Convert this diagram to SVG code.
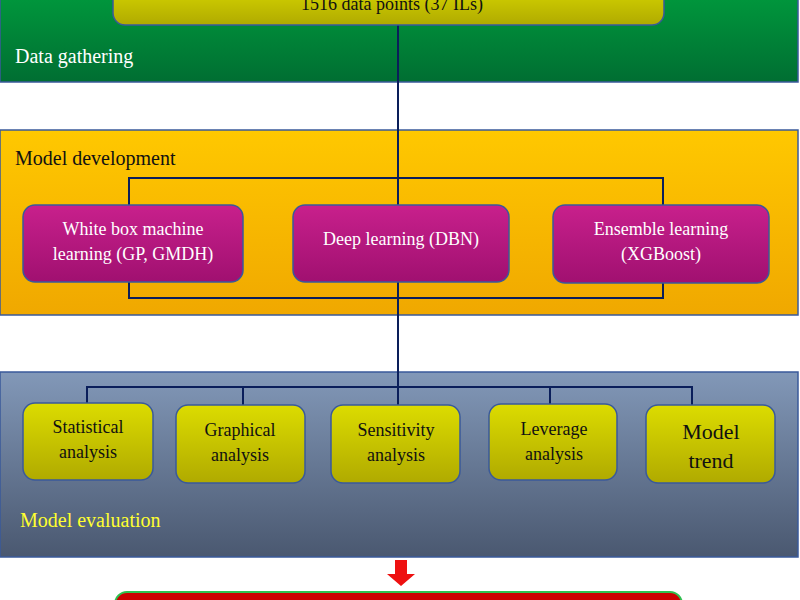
<svg xmlns="http://www.w3.org/2000/svg" width="800" height="600" viewBox="0 0 800 600">
<defs>
<linearGradient id="gG" x1="0" y1="0" x2="0" y2="1"><stop offset="0" stop-color="#00963c"/><stop offset="1" stop-color="#006e32"/></linearGradient>
<linearGradient id="gO" x1="0" y1="0" x2="0" y2="1"><stop offset="0" stop-color="#ffc800"/><stop offset="1" stop-color="#f0a800"/></linearGradient>
<linearGradient id="gB" x1="0" y1="0" x2="0" y2="1"><stop offset="0" stop-color="#8298b8"/><stop offset="1" stop-color="#4a5870"/></linearGradient>
<linearGradient id="gY" x1="0" y1="0" x2="0" y2="1"><stop offset="0" stop-color="#dcdc00"/><stop offset="1" stop-color="#b0aa00"/></linearGradient>
<linearGradient id="gM" x1="0" y1="0" x2="0" y2="1"><stop offset="0" stop-color="#c8208c"/><stop offset="1" stop-color="#a01070"/></linearGradient>
</defs>
<style>
.band{stroke:#3a5a9a;stroke-width:1.5}
.yb{fill:url(#gY);stroke:#3a5a9a;stroke-width:1.5}
.mb{fill:url(#gM);stroke:#3a5a9a;stroke-width:1.5}
text{font-family:"Liberation Serif",serif;text-anchor:middle}
.t{font-size:18px;fill:#111}
.w{font-size:18px;fill:#fff}
.c{fill:none;stroke:#0a1e5a;stroke-width:2}
</style>
<g id="data-gathering">
<rect class="band" x="0" y="-2" width="798" height="84" fill="url(#gG)"/>
<text x="15" y="63" style="text-anchor:start;font-size:20px;fill:#fff">Data gathering</text>
</g>
<g id="model-development">
<rect class="band" x="0" y="130" width="798" height="185" fill="url(#gO)"/>
<text x="15" y="165" style="text-anchor:start;font-size:20px;fill:#111">Model development</text>
</g>
<g id="model-evaluation">
<rect class="band" x="0" y="372" width="798" height="185" fill="url(#gB)"/>
<text x="20" y="527" style="text-anchor:start;font-size:20px;fill:#ffff30">Model evaluation</text>
</g>
<g id="connectors">
<path class="c" d="M398 25V405"/>
<path class="c" d="M129 205V178H663V205M129 282V298H663V283"/>
<path class="c" d="M87 403V387H692V405M243 387V405M550 387V404"/>
<path d="M395 560h12v14h8l-14 12-14-12h8z" fill="#ee1111"/>
</g>
<g id="n-data"><rect class="yb" x="113" y="-20" width="551" height="45" rx="12"/><text class="t" x="392" y="10">1516 data points (37 ILs)</text></g>
<g id="n-wb"><rect class="mb" x="23" y="205" width="220" height="77" rx="12"/><text class="w" x="133" y="235">White box machine</text><text class="w" x="133" y="260">learning (GP, GMDH)</text></g>
<g id="n-dl"><rect class="mb" x="293" y="205" width="216" height="77" rx="12"/><text class="w" x="401" y="245">Deep learning (DBN)</text></g>
<g id="n-el"><rect class="mb" x="553" y="205" width="216" height="78" rx="12"/><text class="w" x="661" y="235">Ensemble learning</text><text class="w" x="661" y="260">(XGBoost)</text></g>
<g id="n-stat"><rect class="yb" x="23" y="403" width="130" height="77" rx="12"/><text class="t" x="88" y="433">Statistical</text><text class="t" x="88" y="458">analysis</text></g>
<g id="n-graph"><rect class="yb" x="176" y="405" width="129" height="78" rx="12"/><text class="t" x="240" y="436">Graphical</text><text class="t" x="240" y="461">analysis</text></g>
<g id="n-sens"><rect class="yb" x="331" y="405" width="129" height="78" rx="12"/><text class="t" x="396" y="436">Sensitivity</text><text class="t" x="396" y="461">analysis</text></g>
<g id="n-lev"><rect class="yb" x="489" y="404" width="128" height="76" rx="12"/><text class="t" x="554" y="435">Leverage</text><text class="t" x="554" y="460">analysis</text></g>
<g id="n-trend"><rect class="yb" x="646" y="405" width="129" height="78" rx="12"/><text class="t" x="711" y="439" style="font-size:22px">Model</text><text class="t" x="711" y="468" style="font-size:22px">trend</text></g>
<g id="n-result"><rect x="115" y="592" width="567" height="40" rx="12" fill="#cc0000" stroke="#30c050" stroke-width="2"/></g>
</svg>
